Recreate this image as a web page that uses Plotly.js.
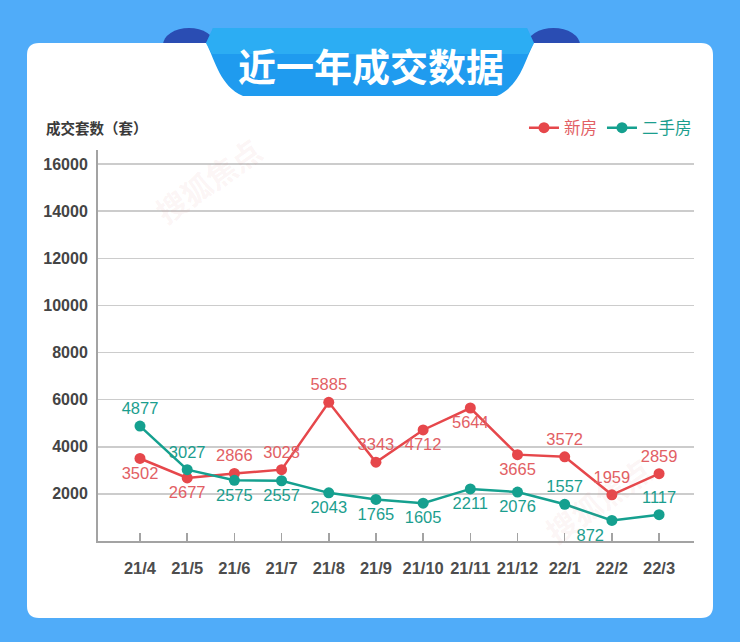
<!DOCTYPE html>
<html>
<head>
<meta charset="utf-8">
<script src="https://cdn.plot.ly/plotly-3.0.1.min.js"></script>
<style>
  html, body { margin: 0; padding: 0; background: #50acf9; }
  #chart { width: 740px; height: 642px; }
</style>
</head>
<body>
<div id="chart"></div>
<script>
// ---- data ----
const months = ["21/4","21/5","21/6","21/7","21/8","21/9","21/10","21/11","21/12","22/1","22/2","22/3"];
const newHouse = [3502, 2677, 2866, 3028, 5885, 3343, 4712, 5644, 3665, 3572, 1959, 2859];
const secondHand = [4877, 3027, 2575, 2557, 2043, 1765, 1605, 2211, 2076, 1557, 872, 1117];
const newLabelPos = ["bottom center","bottom center","top center","top center","top center","top center","bottom center","bottom center","bottom center","top center","top center","top center"];
const secondLabelPos = ["top center","top center","bottom center","bottom center","bottom center","bottom center","bottom center","bottom center","bottom center","top center","bottom left","top center"];
const yTickValues = [2000, 4000, 6000, 8000, 10000, 12000, 14000, 16000];
const seriesNames = ["新房", "二手房"];
const chartTitle = "近一年成交数据";
const yTitle = "成交套数（套）";

// ---- layout geometry (pixels) ----
const W = 740, H = 642;
const L = 98, R = 694, T = 150, B = 541;
const pw = R - L, ph = B - T;
const px = x => (x - L) / pw;
const py = y => (B - y) / ph;
const pt = (x, y) => px(x).toFixed(5) + "," + py(y).toFixed(5);

const RED = "#e6474b", RED_TXT = "#e26064";
const TEAL = "#15a08f", TEAL_TXT = "#1b9e8e";

function roundRect(x0, y0, x1, y1, r) {
  return "M" + pt(x0 + r, y0) + " L" + pt(x1 - r, y0) + " Q" + pt(x1, y0) + " " + pt(x1, y0 + r) +
         " L" + pt(x1, y1 - r) + " Q" + pt(x1, y1) + " " + pt(x1 - r, y1) +
         " L" + pt(x0 + r, y1) + " Q" + pt(x0, y1) + " " + pt(x0, y1 - r) +
         " L" + pt(x0, y0 + r) + " Q" + pt(x0, y0) + " " + pt(x0 + r, y0) + " Z";
}

const tabPath = "M" + pt(213, 28) + " L" + pt(527, 28) +
  " L" + pt(534, 43) + " C" + pt(524, 62) + " " + pt(520, 86) + " " + pt(497, 96) +
  " L" + pt(243, 96) + " C" + pt(220, 86) + " " + pt(216, 62) + " " + pt(206, 43) + " Z";
const tabTopPath = "M" + pt(213, 28) + " L" + pt(527, 28) +
  " L" + pt(534, 43) + " C" + pt(531, 48) + " " + pt(529, 52) + " " + pt(528, 54) +
  " L" + pt(212, 54) + " C" + pt(211, 52) + " " + pt(209, 48) + " " + pt(206, 43) + " Z";

const shapes = [
  {type: "circle", xref: "paper", yref: "paper", layer: "below",
   x0: px(163), x1: px(215), y0: py(62), y1: py(28), fillcolor: "#2a4db3", line: {width: 0}},
  {type: "circle", xref: "paper", yref: "paper", layer: "below",
   x0: px(527), x1: px(580), y0: py(62), y1: py(28), fillcolor: "#2a4db3", line: {width: 0}},
  {type: "path", xref: "paper", yref: "paper", layer: "below",
   path: roundRect(27, 43, 713, 618, 12), fillcolor: "#ffffff", line: {width: 0}},
  {type: "path", xref: "paper", yref: "paper", layer: "below",
   path: tabPath, fillcolor: "#1f9bef", line: {width: 0}},
  {type: "path", xref: "paper", yref: "paper", layer: "below",
   path: tabTopPath, fillcolor: "#3cc4f8", opacity: 0.45, line: {width: 0}}
];

const annotations = [
  {xref: "paper", yref: "paper", x: px(371), y: py(65), xanchor: "center", yanchor: "middle",
   text: "<b>" + chartTitle + "</b>", showarrow: false,
   font: {family: "Noto Sans CJK SC", size: 38, color: "#ffffff"}},
  {xref: "paper", yref: "paper", x: px(44), y: py(127), xanchor: "left", yanchor: "middle",
   text: "<b>" + yTitle + "</b>", showarrow: false,
   font: {family: "Noto Sans CJK SC", size: 14.5, color: "#3a3a3a"}},
  {xref: "paper", yref: "paper", x: px(208), y: py(180), xanchor: "center", yanchor: "middle",
   text: "<b>搜狐焦点</b>", showarrow: false, textangle: -35,
   font: {family: "Noto Sans CJK SC", size: 30, color: "rgba(220,120,120,0.08)"}},
  {xref: "paper", yref: "paper", x: px(598), y: py(500), xanchor: "center", yanchor: "middle",
   text: "<b>搜狐焦点</b>", showarrow: false, textangle: -35,
   font: {family: "Noto Sans CJK SC", size: 30, color: "rgba(220,120,120,0.08)"}}
];

const labelFont = {family: "Liberation Sans, Arial, sans-serif", size: 16.5};

const traces = [
  {
    type: "scatter", mode: "lines+markers+text",
    name: '<span style="color:' + RED_TXT + '">' + seriesNames[0] + '</span>',
    x: months, y: newHouse,
    text: newHouse.map(String), textposition: newLabelPos,
    textfont: Object.assign({color: RED_TXT}, labelFont),
    line: {color: RED, width: 2.5},
    marker: {color: RED, size: 11},
    cliponaxis: false, hoverinfo: "x+y"
  },
  {
    type: "scatter", mode: "lines+markers+text",
    name: '<span style="color:' + TEAL_TXT + '">' + seriesNames[1] + '</span>',
    x: months, y: secondHand,
    text: secondHand.map(String), textposition: secondLabelPos,
    textfont: Object.assign({color: TEAL_TXT}, labelFont),
    line: {color: TEAL, width: 2.5},
    marker: {color: TEAL, size: 11},
    cliponaxis: false, hoverinfo: "x+y"
  }
];

const layout = {
  width: W, height: H,
  margin: {l: L, r: W - R, t: T, b: H - B, pad: 0},
  paper_bgcolor: "#50acf9",
  plot_bgcolor: "rgba(0,0,0,0)",
  showlegend: true,
  legend: {
    orientation: "h", x: 1.005, xanchor: "right", y: py(128), yanchor: "middle",
    font: {family: "Noto Sans CJK SC", size: 16.5, color: "#444"},
    bgcolor: "rgba(0,0,0,0)", itemwidth: 30, traceorder: "normal"
  },
  xaxis: {
    type: "category", range: [-0.89, 11.74],
    showline: true, linecolor: "#a3a3a3", linewidth: 2,
    showgrid: false, zeroline: false,
    ticks: "inside", ticklen: 8, tickwidth: 1.5, tickcolor: "#a3a3a3",
    tickangle: 0,
    tickfont: {family: "Liberation Sans, Arial, sans-serif", size: 16.5, color: "#4d4d4d", weight: "bold"},
    ticklabelstandoff: 11, fixedrange: true
  },
  yaxis: {
    range: [0, 16594], tickmode: "array", tickvals: yTickValues,
    ticktext: yTickValues.map(String),
    showline: true, linecolor: "#a3a3a3", linewidth: 2,
    showgrid: true, gridcolor: "#cccccc", gridwidth: 1.5,
    zeroline: false, ticks: "",
    tickfont: {family: "Liberation Sans, Arial, sans-serif", size: 16, color: "#444444", weight: "bold"},
    ticklabelstandoff: 5, fixedrange: true
  },
  shapes: shapes,
  annotations: annotations,
  font: {family: "Noto Sans CJK SC, Liberation Sans, sans-serif"}
};

Plotly.newPlot("chart", traces, layout, {displayModeBar: false, staticPlot: true});
</script>
</body>
</html>
